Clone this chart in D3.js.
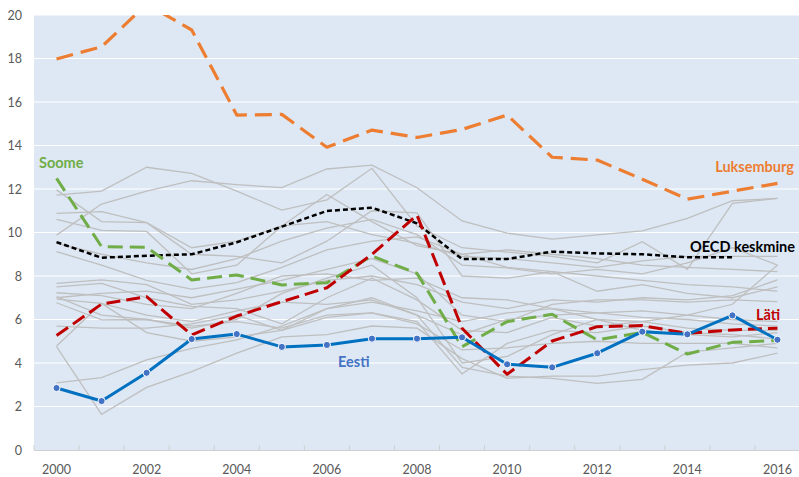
<!DOCTYPE html>
<html>
<head>
<meta charset="utf-8">
<script src="https://cdn.jsdelivr.net/npm/d3@7"></script>
<style>
  html, body { margin: 0; padding: 0; background: #ffffff; }
  svg { display: block; font-family: Lato, "Open Sans", sans-serif; }
</style>
</head>
<body>
<svg id="chart" width="799" height="477"></svg>
<script>
// ---- data ----
const years = [2000,2001,2002,2003,2004,2005,2006,2007,2008,2009,2010,2011,2012,2013,2014,2015,2016];
const yTicks = [0,2,4,6,8,10,12,14,16,18,20];
const xTickLabels = [2000,2002,2004,2006,2008,2010,2012,2014,2016];

const eesti      = [2.85,2.25,3.55,5.1,5.33,4.74,4.83,5.12,5.12,5.18,3.94,3.8,4.45,5.44,5.32,6.19,5.07];
const luksemburg = [17.98,18.54,20.5,19.31,15.4,15.43,13.92,14.71,14.37,14.74,15.4,13.46,13.33,12.45,11.53,11.9,12.26];
const oecd       = [9.56,8.84,8.93,9.0,9.55,10.27,10.99,11.14,10.42,8.78,8.78,9.12,9.04,9.0,8.86,8.86,null];
const soome      = [12.49,9.35,9.32,7.82,8.05,7.59,7.69,8.92,8.12,4.75,5.9,6.24,5.06,5.41,4.41,4.95,5.03];
const lati       = [5.26,6.71,7.05,5.29,6.16,6.82,7.46,9.0,10.8,5.6,3.48,5.01,5.67,5.72,5.36,5.52,5.6];

const grayA = [9.88,11.31,11.9,12.38,12.2,12.06,12.92,13.1,12.06,10.53,9.97,9.7,9.89,10.07,10.65,11.46,11.57];
const grayB = [11.72,11.9,13.0,12.72,11.9,11.03,11.5,12.95,10.3,9.3,9.1,8.9,8.6,9.58,8.31,11.34,11.57];
const grayC = [11.96,10.5,10.45,9.3,9.6,10.3,10.5,9.9,9.5,8.9,8.8,8.6,8.4,8.7,8.9,8.9,8.9];
const grayD = [10.88,10.96,10.45,9.0,8.9,8.6,9.6,11.0,10.9,8.0,7.9,8.2,7.3,7.6,7.2,7.0,7.5];
const grayE = [10.6,10.1,10.05,8.1,8.5,10.3,11.75,10.5,9.4,9.0,9.2,9.0,8.8,8.5,8.4,8.3,8.2];
const grayF = [9.12,8.5,7.8,7.4,7.7,8.4,9.2,9.6,9.8,9.0,8.4,8.2,8.0,7.8,7.6,7.5,7.3];
const grayG = [7.66,7.82,7.6,6.7,6.9,7.3,7.8,8.0,7.6,6.8,6.5,6.9,6.8,7.0,6.9,7.1,7.82];
const grayH = [7.5,7.66,7.0,6.6,6.5,5.8,7.0,7.9,6.9,5.5,5.4,6.1,5.7,5.9,6.2,6.7,8.5];
const grayI = [7.23,7.1,6.7,6.5,7.2,8.0,8.1,7.8,7.9,7.0,6.9,6.5,6.3,6.1,6.0,5.8,5.7];
const grayJ = [7.05,6.2,6.0,5.6,6.0,7.2,7.9,8.5,7.0,4.0,4.3,5.3,6.0,5.5,5.3,5.2,5.4];
const grayK = [6.94,6.74,6.2,5.9,6.4,6.8,6.7,6.9,6.2,5.3,6.0,6.2,6.3,6.4,6.2,6.0,5.9];
const grayL = [6.77,5.98,6.0,5.7,5.9,5.6,6.2,6.3,5.9,3.5,4.9,5.5,5.4,5.7,5.4,5.3,5.1];
const grayM = [5.7,5.6,5.6,5.8,6.2,5.5,6.5,6.8,6.4,5.9,6.3,6.5,6.0,5.9,5.6,5.5,5.5];
const grayN = [4.78,6.74,5.4,5.0,5.2,5.5,6.1,6.3,5.8,4.6,4.7,4.9,5.0,4.9,4.9,4.9,4.7];
const grayO = [3.09,3.33,4.14,4.67,5.06,5.7,6.5,7.0,6.2,3.8,3.4,3.29,3.06,3.25,4.5,4.7,4.9];
const grayP = [4.75,1.64,2.88,3.6,4.45,5.2,5.3,5.7,5.6,4.2,3.3,3.4,3.4,3.7,3.9,4.0,4.45];
const grayQ = [9.5,9.0,8.6,8.3,8.8,9.6,10.2,10.6,9.9,8.5,8.37,8.1,8.3,8.1,8.6,9.3,8.5];
const grayR = [7.0,7.2,7.3,7.0,7.4,7.8,8.3,8.8,8.1,6.2,5.9,6.7,6.9,6.9,6.8,6.9,6.82];

const grays = [grayA,grayB,grayC,grayD,grayE,grayF,grayG,grayH,grayI,grayJ,grayK,grayL,grayM,grayN,grayO,grayP,grayQ,grayR];

// ---- layout ----
const svg = d3.select("#chart");
const plot = {left: 34, right: 800, top: 15, bottom: 450};

const x = d3.scaleBand().domain(years).range([plot.left, plot.right]).padding(0);
const cx = d => x(d) + x.bandwidth() / 2;
const y = d3.scaleLinear().domain([0, 20]).range([plot.bottom, plot.top]);

svg.append("defs").append("clipPath").attr("id", "clip")
  .append("rect").attr("x", plot.left).attr("y", plot.top)
  .attr("width", plot.right - plot.left).attr("height", plot.bottom - plot.top);

svg.append("rect").attr("x", plot.left).attr("y", plot.top)
  .attr("width", plot.right - plot.left).attr("height", plot.bottom - plot.top)
  .attr("fill", "#dde8f4");

// gridlines
svg.append("g").selectAll("line").data(yTicks.filter(d => d > 0)).join("line")
  .attr("x1", plot.left).attr("x2", plot.right)
  .attr("y1", d => y(d)).attr("y2", d => y(d))
  .attr("stroke", "#ffffff").attr("stroke-width", 1.2);

// y axis labels
const yAxis = d3.axisLeft(y).tickValues(yTicks).tickSize(0).tickPadding(12);
const gy = svg.append("g").attr("transform", `translate(${plot.left},0)`).call(yAxis);
gy.select(".domain").remove();
gy.selectAll("text").attr("fill", "#595959").style("font-size", "12.5px").style("font-family", "Lato, sans-serif");

// x axis
const gx = svg.append("g").attr("transform", `translate(0,${plot.bottom})`);
gx.append("line").attr("x1", plot.left).attr("x2", plot.right).attr("y1", 0.5).attr("y2", 0.5)
  .attr("stroke", "#d0d0d0").attr("stroke-width", 1);
const edges = years.map(d => x(d)).concat([plot.right]);
gx.selectAll("line.tk").data(edges).join("line").attr("class", "tk")
  .attr("x1", d => d).attr("x2", d => d).attr("y1", 0).attr("y2", -5)
  .attr("stroke", "#d0d0d0").attr("stroke-width", 1);
gx.selectAll("text").data(xTickLabels).join("text")
  .attr("x", d => cx(d)).attr("y", 24)
  .attr("text-anchor", "middle").attr("fill", "#595959")
  .style("font-size", "12.5px").text(d => d);

// lines
const line = d3.line().defined(d => d[1] != null).x(d => cx(d[0])).y(d => y(d[1]));
const pts = arr => years.map((yr, i) => [yr, arr[i]]);
const g = svg.append("g").attr("clip-path", "url(#clip)");

g.selectAll("path.gray").data(grays).join("path").attr("class", "gray")
  .attr("d", d => line(pts(d))).attr("fill", "none")
  .attr("stroke", "#bfbfbf").attr("stroke-width", 1.3);

function drawSeries(arr, color, width, dash) {
  g.append("path").attr("d", line(pts(arr))).attr("fill", "none")
    .attr("stroke", color).attr("stroke-width", width)
    .attr("stroke-dasharray", dash).attr("stroke-linejoin", "round");
}
drawSeries(luksemburg, "#ed7d31", 3.2, "17,8");
drawSeries(oecd, "#000000", 2.5, "5,3");
drawSeries(soome, "#70ad47", 3, "15,7");
drawSeries(lati, "#c00000", 3, "14,6");
drawSeries(eesti, "#0070c0", 3, null);

g.selectAll("circle.ee").data(pts(eesti)).join("circle").attr("class", "ee")
  .attr("cx", d => cx(d[0])).attr("cy", d => y(d[1])).attr("r", 3.6)
  .attr("fill", "#4472c4").attr("stroke", "#ffffff").attr("stroke-width", 1);

// labels
const labels = [
  {t: "Soome", x: 39, y: 168, c: "#70ad47", a: "start"},
  {t: "Luksemburg", x: 794, y: 172, c: "#ed7d31", a: "end"},
  {t: "OECD keskmine", x: 795, y: 252, c: "#000000", a: "end"},
  {t: "Läti", x: 780, y: 320, c: "#c00000", a: "end"},
  {t: "Eesti", x: 338, y: 367, c: "#4472c4", a: "start"}
];
svg.append("g").selectAll("text").data(labels).join("text")
  .attr("x", d => d.x).attr("y", d => d.y).attr("text-anchor", d => d.a)
  .attr("fill", d => d.c).style("font-size", "14.5px").style("font-weight", "bold")
  .text(d => d.t);
</script>
</body>
</html>
